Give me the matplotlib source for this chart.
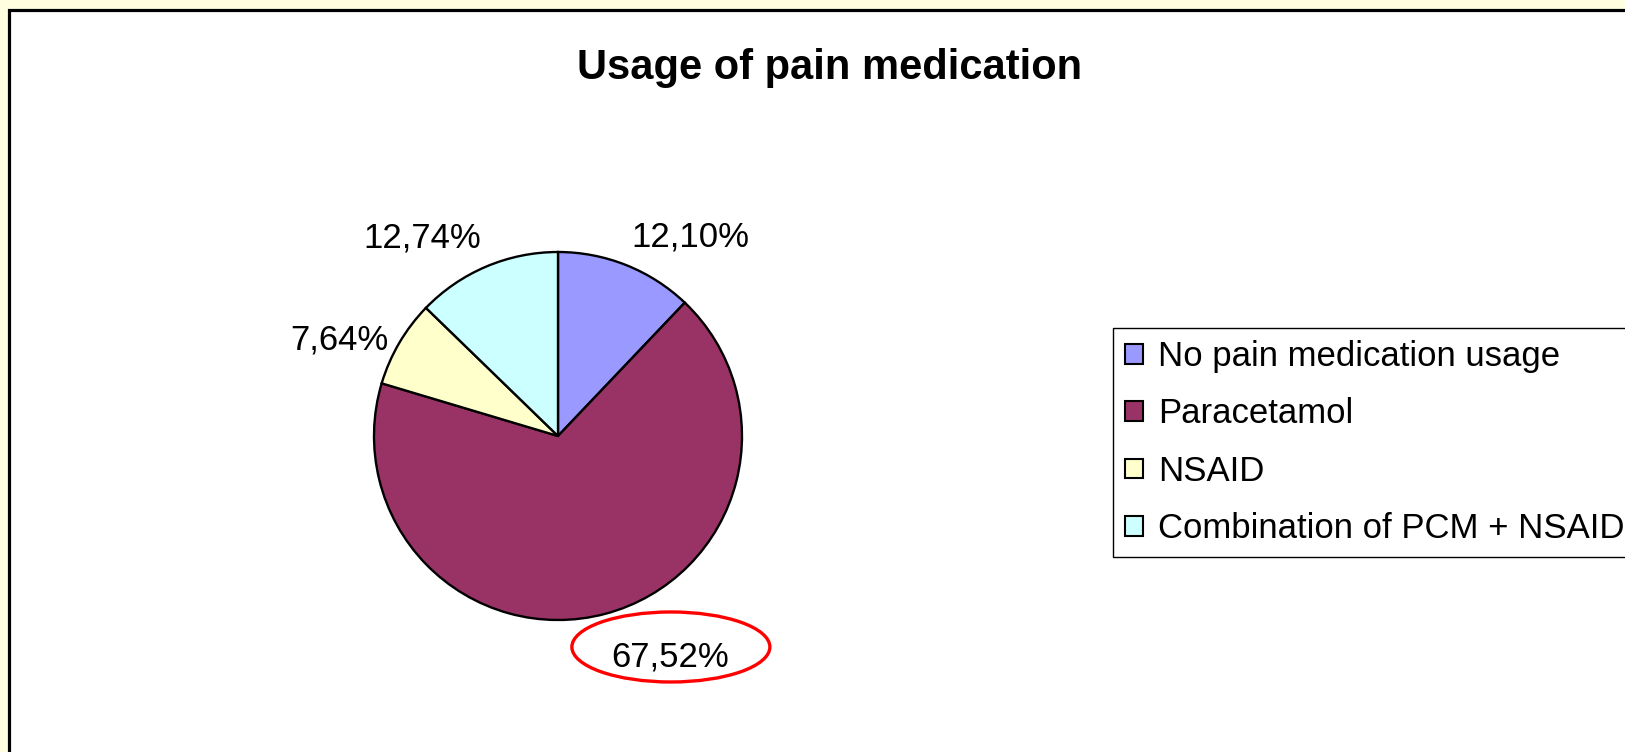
import numpy as np
import matplotlib
matplotlib.use('Agg')
import matplotlib.pyplot as plt
from matplotlib.patches import Rectangle, Ellipse, Patch

plt.rcParams['font.family'] = ['Liberation Sans', 'DejaVu Sans']

# ---- data ----
categories = ['No pain medication usage', 'Paracetamol', 'NSAID',
              'Combination of PCM + NSAID']
shares = [12.10, 67.52, 7.64, 12.74]
colors = ['#9999FF', '#993366', '#FFFFCC', '#CCFFFF']
title = 'Usage of pain medication'
highlight = 1  # Paracetamol label is circled


def fmt(v):
    return f'{v:.2f}%'.replace('.', ',')


W, H = 1625, 752
fig = plt.figure(figsize=(W / 100, H / 100), dpi=100)
fig.patch.set_facecolor('#FFFFE0')

# white chart area, runs off right and bottom edges
fig.patches.append(Rectangle((9 / W, -0.05), 1.1, 1.05 - 10 / H,
                             transform=fig.transFigure, facecolor='white',
                             edgecolor='black', linewidth=2.3, zorder=-5))

fig.text(830 / W, 1 - 68 / H, title, ha='center', va='center',
         fontsize=30, fontweight='bold')

# pie axes: centre (558, 436) px, radius 184 px
cx, cy, r = 558, 436, 184
ax = fig.add_axes([(cx - r) / W, (H - cy - r) / H, 2 * r / W, 2 * r / H])
ax.patch.set_visible(False)
wedges, _ = ax.pie(shares, colors=colors, startangle=90, counterclock=False,
                   wedgeprops=dict(edgecolor='black', linewidth=1.7))
ax.set_xlim(-1, 1)
ax.set_ylim(-1, 1)
ax.axis('off')

for i, (w, v) in enumerate(zip(wedges, shares)):
    mid = np.deg2rad((w.theta1 + w.theta2) / 2)
    c, s = np.cos(mid), np.sin(mid)
    ha = 'left' if c > 0 else 'right'
    if abs(s) < 0.6:
        va = 'center'
        x, y = 1.07 * c, 1.03 * s
    elif s > 0:
        va = 'bottom'
        x, y = 1.07 * c, 1.07 * s
    else:
        va = 'top'
        x, y = 1.12 * c, 1.15 * s
    t = ax.text(x, y, fmt(v), ha=ha, va=va, fontsize=25)
    if i == highlight:
        fig.canvas.draw()
        bb = t.get_window_extent()
        xc, yc = (bb.x0 + bb.x1) / 2 + 1, (bb.y0 + bb.y1) / 2 + 10
        fig.patches.append(Ellipse((xc / W, yc / H), 198 / W, 70 / H,
                                   transform=fig.transFigure, fill=False,
                                   edgecolor='red', linewidth=2.4, zorder=5))

handles = [Patch(facecolor=c, edgecolor='black', linewidth=1.5) for c in colors]
leg = fig.legend(handles, categories, loc='upper left',
                 bbox_to_anchor=(1113 / W, 1 - 328 / H), fontsize=25,
                 fancybox=False, shadow=False, framealpha=1,
                 handlelength=0.5, handleheight=0.5, handletextpad=0.45,
                 labelspacing=0.7, borderpad=0.35, borderaxespad=0)
leg.get_frame().set_edgecolor('black')
leg.get_frame().set_linewidth(1.0)

fig.savefig('out.png', dpi=100, facecolor=fig.get_facecolor())
